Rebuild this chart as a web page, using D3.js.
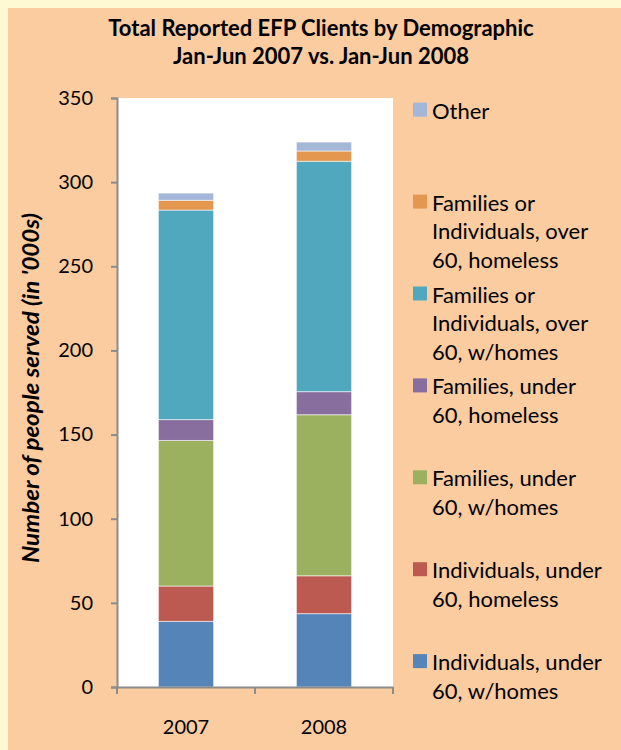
<!DOCTYPE html>
<html><head><meta charset="utf-8">
<script src="https://cdn.jsdelivr.net/npm/d3@7"></script>
<style>html,body{margin:0;padding:0;background:#FEF8D3;} svg{display:block;}</style>
</head><body>
<script>
const years = ["2007", "2008"];
const seriesNames = ["Individuals, under 60, w/homes","Individuals, under 60, homeless","Families, under 60, w/homes","Families, under 60, homeless","Families or Individuals, over 60, w/homes","Families or Individuals, over 60, homeless","Other"];
const indivHomes    = [39, 43.6];
const indivHomeless = [21, 22.5];
const famHomes      = [86.5, 95.7];
const famHomeless   = [12.4, 13.7];
const over60Homes   = [124.5, 136.9];
const over60Homeless= [5.8, 6.1];
const other         = [4.3, 5.3];
const seriesColors = ["#5585B8","#BC5A52","#9CB15F","#876E9E","#50A8BF","#E4984F","#A5B7D9"];
const legendLines = [
  ["Other"],
  ["Families or","Individuals, over","60, homeless"],
  ["Families or","Individuals, over","60, w/homes"],
  ["Families, under","60, homeless"],
  ["Families, under","60, w/homes"],
  ["Individuals, under","60, homeless"],
  ["Individuals, under","60, w/homes"]
];
const legendColors = ["#A5B7D9","#E4984F","#50A8BF","#876E9E","#9CB15F","#BC5A52","#5585B8"];
const yTicks = [0,50,100,150,200,250,300,350];
const titleLines = ["Total Reported EFP Clients by Demographic","Jan-Jun 2007 vs. Jan-Jun 2008"];
const yTitle = "Number of people served (in '000s)";

(function(){
const W = 621, H = 750;
const font = "Lato, 'Open Sans', sans-serif";
const svg = d3.select("body").append("svg").attr("width", W).attr("height", H);
svg.append("rect").attr("x",0).attr("y",0).attr("width",W).attr("height",H).attr("fill","#FEF8D3");
svg.append("rect").attr("x",8).attr("y",8).attr("width",W-8).attr("height",H-8).attr("fill","#FACCA0");

const allSeries = [indivHomes, indivHomeless, famHomes, famHomeless, over60Homes, over60Homeless, other];
const rows = years.map((yr,i)=>{ const r={year:yr}; seriesNames.forEach((s,k)=>r[s]=allSeries[k][i]); return r; });
const stack = d3.stack().keys(seriesNames)(rows);

const pLeft = 117, pRight = 393, pTop = 98, pBottom = 687;
const x = d3.scaleBand().domain(years).range([pLeft, pRight]).paddingInner(0.6).paddingOuter(0.3);
const y = d3.scaleLinear().domain([0,350]).range([pBottom, pTop]);

svg.append("rect").attr("x",pLeft+1).attr("y",pTop).attr("width",pRight-pLeft-1).attr("height",pBottom-pTop).attr("fill","#FFFFFF");

svg.append("g").selectAll("g").data(stack).join("g")
  .attr("fill",(d,i)=>seriesColors[i])
  .selectAll("rect").data(d=>d).join("rect")
  .attr("x",d=>x(d.data.year)).attr("width",x.bandwidth())
  .attr("y",d=>y(d[1])).attr("height",d=>y(d[0])-y(d[1]))
  .attr("stroke","rgba(255,255,255,0.55)").attr("stroke-width",1);

const yAxis = svg.append("g").attr("transform",`translate(${pLeft},0)`)
  .call(d3.axisLeft(y).tickValues(yTicks).tickSize(6).tickPadding(18));
yAxis.select(".domain").attr("stroke","#8C8C8C").attr("stroke-width",2);
yAxis.selectAll(".tick line").attr("stroke","#8C8C8C").attr("stroke-width",2);
yAxis.selectAll(".tick text").attr("font-family",font).attr("font-size",20).attr("fill","#000");

const xAxis = svg.append("g").attr("transform",`translate(0,${pBottom})`)
  .call(d3.axisBottom(x).tickSize(0).tickPadding(33));
xAxis.select(".domain").attr("stroke","#8C8C8C").attr("stroke-width",2);
xAxis.selectAll(".tick text").attr("font-family",font).attr("font-size",20).attr("fill","#000");
const bounds = [pLeft, (pLeft+pRight)/2, pRight];
svg.append("g").selectAll("line").data(bounds).join("line")
  .attr("x1",d=>d).attr("x2",d=>d).attr("y1",pBottom).attr("y2",pBottom+7)
  .attr("stroke","#8C8C8C").attr("stroke-width",2);

svg.append("g").selectAll("text").data(titleLines).join("text")
  .attr("x",321).attr("y",(d,i)=>36+i*28).attr("text-anchor","middle")
  .attr("font-family",font).attr("font-weight","bold").attr("font-size",22).attr("fill","#000").text(d=>d);

svg.append("text").attr("transform","translate(39,388) rotate(-90)").attr("text-anchor","middle")
  .attr("font-family",font).attr("font-weight","bold").attr("font-style","italic").attr("font-size",22)
  .attr("textLength",350).attr("lengthAdjust","spacingAndGlyphs")
  .attr("fill","#000").text(yTitle);

const lg = svg.append("g").selectAll("g").data(legendLines).join("g")
  .attr("transform",(d,i)=>`translate(413,${102.7+i*91.9})`);
lg.append("rect").attr("width",14).attr("height",14).attr("fill",(d,i)=>legendColors[i]);
lg.each(function(lines){
  d3.select(this).selectAll("text").data(lines).join("text")
    .attr("x",19).attr("y",(d,j)=>16+j*28.7)
    .attr("font-family",font).attr("font-size",22).attr("fill","#000").text(d=>d);
});
})();
</script>
</body></html>
